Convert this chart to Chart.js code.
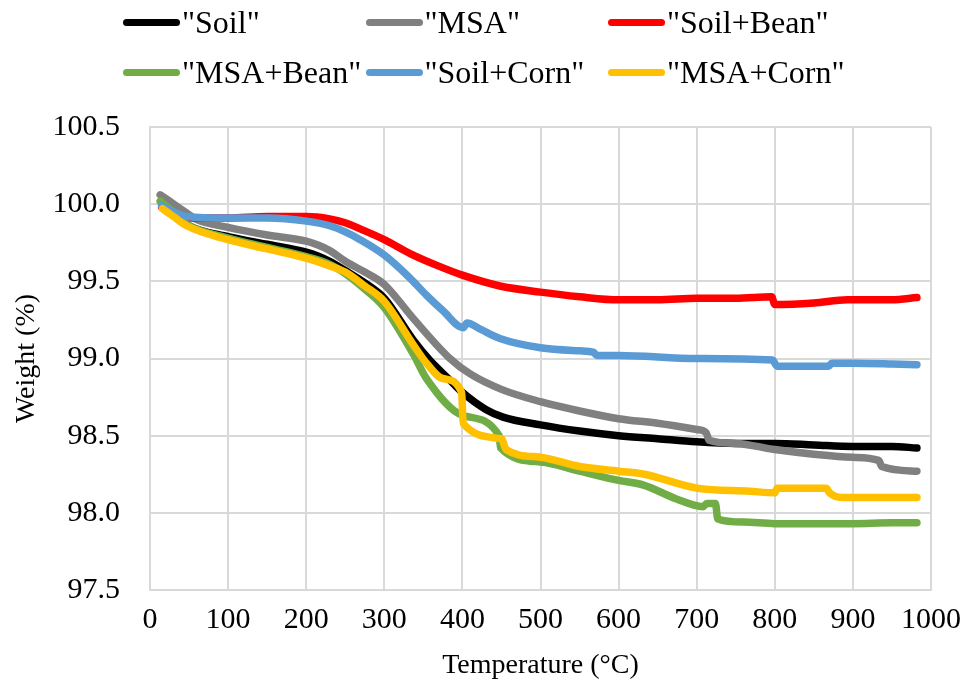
<!DOCTYPE html>
<html>
<head>
<meta charset="utf-8">
<script src="https://cdn.jsdelivr.net/npm/chart.js@4/dist/chart.umd.min.js"></script>
<style>
  body { margin: 0; background: #fff; }
  #wrap { position: relative; width: 968px; height: 693px; }
  #legend { position: absolute; left: 0; top: 0; width: 968px; height: 100px;
            font-family: "Liberation Serif", "Times New Roman", serif; font-size: 32px; color: #000; }
  .item { position: absolute; display: flex; align-items: center; white-space: nowrap; height: 36px; }
  .swatch { width: 57px; height: 7.5px; border-radius: 4px; margin-right: 2px; }
</style>
</head>
<body>
<div id="wrap">
  <canvas id="myChart" width="968" height="693"></canvas>
  <div id="legend"></div>
</div>
<script>
  // TGA curves, temperature (°C) / weight (%)
  var soilT = [15, 30, 50, 100, 150, 200, 215, 230, 250, 275, 300, 337, 358, 384, 400, 430, 452, 500, 550, 600, 650, 700, 750, 800, 850, 900, 950, 982];
  var soilW = [100.00, 99.94, 99.86, 99.79, 99.74, 99.69, 99.665, 99.63, 99.57, 99.49, 99.39, 99.12, 98.99, 98.86, 98.78, 98.67, 98.62, 98.57, 98.53, 98.50, 98.48, 98.46, 98.45, 98.45, 98.44, 98.43, 98.43, 98.42];

  var msaT = [13, 25, 42, 60, 100, 150, 200, 215, 230, 250, 275, 300, 337, 384, 410, 450, 500, 550, 600, 650, 700, 712, 716, 750, 800, 850, 900, 933, 937, 982];
  var msaW = [100.06, 100.02, 99.96, 99.90, 99.85, 99.80, 99.76, 99.735, 99.70, 99.63, 99.56, 99.48, 99.26, 99.00, 98.90, 98.80, 98.72, 98.66, 98.61, 98.58, 98.54, 98.52, 98.47, 98.45, 98.41, 98.38, 98.36, 98.34, 98.30, 98.27];

  var soilBeanT = [15, 30, 50, 100, 150, 200, 230, 250, 269, 300, 333, 369, 400, 448, 500, 550, 600, 650, 700, 750, 796, 800, 850, 893, 950, 982];
  var soilBeanW = [99.98, 99.94, 99.91, 99.91, 99.92, 99.92, 99.905, 99.88, 99.84, 99.77, 99.68, 99.60, 99.54, 99.47, 99.43, 99.40, 99.38, 99.38, 99.39, 99.39, 99.40, 99.35, 99.36, 99.38, 99.38, 99.395];

  var msaBeanT = [13, 25, 47, 100, 150, 200, 230, 250, 275, 300, 337, 354, 401, 447, 449, 500, 550, 600, 632, 674, 708, 713, 724, 727, 760, 800, 850, 900, 950, 982];
  var msaBeanW = [100.02, 99.97, 99.87, 99.78, 99.72, 99.66, 99.61, 99.55, 99.45, 99.33, 99.03, 98.87, 98.63, 98.50, 98.42, 98.33, 98.27, 98.21, 98.18, 98.09, 98.04, 98.06, 98.06, 97.96, 97.94, 97.93, 97.93, 97.93, 97.935, 97.935];

  var soilCornT = [15, 30, 47, 100, 150, 200, 230, 250, 269, 300, 333, 354, 375, 401, 406, 423, 448, 500, 550, 568, 572, 600, 700, 797, 803, 869, 873, 900, 950, 982];
  var soilCornW = [99.99, 99.95, 99.92, 99.91, 99.91, 99.89, 99.86, 99.82, 99.77, 99.67, 99.52, 99.41, 99.31, 99.20, 99.23, 99.19, 99.13, 99.07, 99.05, 99.04, 99.02, 99.02, 99.00, 98.99, 98.95, 98.95, 98.97, 98.97, 98.965, 98.96];

  var msaCornT = [16, 30, 47, 100, 150, 200, 230, 250, 275, 300, 337, 354, 375, 399, 401, 450, 456, 500, 550, 600, 633, 700, 768, 800, 803, 866, 870, 886, 950, 982];
  var msaCornW = [99.97, 99.92, 99.86, 99.77, 99.71, 99.65, 99.60, 99.56, 99.47, 99.37, 99.09, 98.97, 98.87, 98.78, 98.58, 98.48, 98.41, 98.36, 98.30, 98.27, 98.25, 98.16, 98.14, 98.13, 98.16, 98.16, 98.13, 98.10, 98.10, 98.10];

  var seriesNames = ['"Soil"', '"MSA"', '"Soil+Bean"', '"MSA+Bean"', '"Soil+Corn"', '"MSA+Corn"'];
  var seriesColors = ["#000000", "#808080", "#ff0000", "#70ad47", "#5b9bd5", "#ffc000"];

  var xTicks = [0, 1000, 100];      // min, max, step
  var yTicks = [97.5, 100.5, 0.5];

  function toPoints(t, w) {
    return t.map(function (x, i) { return { x: x, y: w[i] }; });
  }

  var allT = [soilT, msaT, soilBeanT, msaBeanT, soilCornT, msaCornT];
  var allW = [soilW, msaW, soilBeanW, msaBeanW, soilCornW, msaCornW];

  var datasets = seriesNames.map(function (name, i) {
    return {
      label: name,
      data: toPoints(allT[i], allW[i]),
      borderColor: seriesColors[i],
      backgroundColor: seriesColors[i],
      borderWidth: 7.5,
      borderCapStyle: "round",
      borderJoinStyle: "round",
      pointRadius: 0,
      cubicInterpolationMode: "monotone",
      fill: false,
      order: seriesNames.length - i   // later series drawn on top, like the original
    };
  });

  var font = "'Liberation Serif', 'Times New Roman', serif";
  var gridColor = "#d9d9d9";

  var ctx = document.getElementById("myChart").getContext("2d");
  var chart = new Chart(ctx, {
    type: "line",
    data: { datasets: datasets },
    options: {
      responsive: false,
      animation: false,
      layout: { padding: { top: 127, right: 37, bottom: 0, left: 0 } },
      plugins: { legend: { display: false }, tooltip: { enabled: false } },
      scales: {
        x: {
          type: "linear",
          min: xTicks[0], max: xTicks[1],
          afterFit: function (s) { s.height = 103; s.paddingLeft = 0; s.paddingRight = 0; },
          grid: { color: gridColor, lineWidth: 2, drawTicks: false },
          border: { color: gridColor, width: 2 },
          ticks: { stepSize: xTicks[2], padding: 12, color: "#000", font: { family: font, size: 30 },
                   callback: function (v) { return String(v); } },
          title: { display: true, text: "Temperature (°C)", color: "#000", padding: { top: 0, bottom: 11 },
                   font: { family: font, size: 28 } }
        },
        y: {
          min: yTicks[0], max: yTicks[1],
          afterFit: function (s) { s.width = 150; s.paddingTop = 0; s.paddingBottom = 0; },
          grid: { color: gridColor, lineWidth: 2, drawTicks: false },
          border: { color: gridColor, width: 2 },
          ticks: { stepSize: yTicks[2], padding: 30, color: "#000", font: { family: font, size: 30 },
                   callback: function (v) { return Number(v).toFixed(1); } },
          title: { display: true, text: "Weight (%)", color: "#000", padding: { top: 10, bottom: 0 },
                   font: { family: font, size: 28 } }
        }
      }
    }
  });

  // legend laid out as a 3 column grid, like the original
  var legend = document.getElementById("legend");
  chart.data.datasets.forEach(function (ds, i) {
    var item = document.createElement("div");
    item.className = "item";
    item.style.left = (123 + (i % 3) * 242.5) + "px";
    item.style.top = (i < 3 ? 4.5 : 54.5) + "px";
    item.innerHTML = '<span class="swatch" style="background:' + ds.borderColor + '"></span><span></span>';
    item.lastChild.textContent = ds.label;
    legend.appendChild(item);
  });
</script>
</body>
</html>
